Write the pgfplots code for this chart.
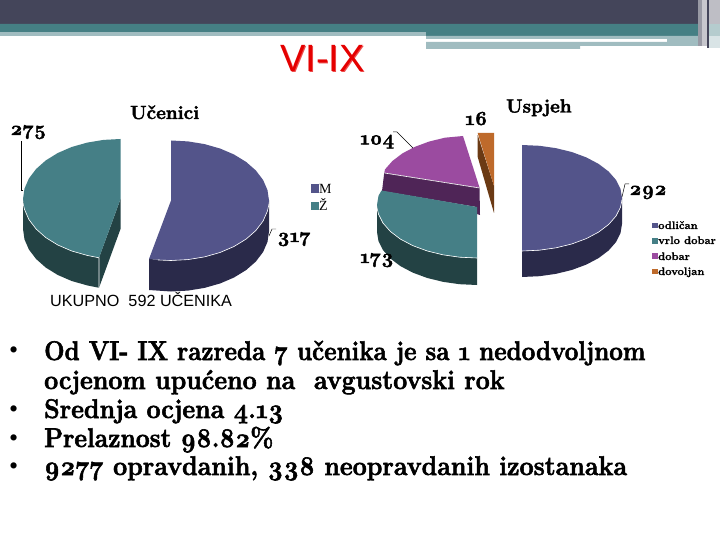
\documentclass[border=0pt]{standalone}
\usepackage{graphicx}
\usepackage{pgfplots}
\pgfplotsset{compat=1.18}
\usepackage{fontspec}
\setmainfont{Liberation Serif}
\newfontfamily\gfont[Numbers=OldStyle,FakeBold=2.2]{Latin Modern Roman}
\newfontfamily\lfont[Numbers=OldStyle,FakeBold=1]{Latin Modern Roman}
\newfontfamily\sfont{Liberation Sans}
\definecolor{bdark}{HTML}{44455A}
\definecolor{bteal}{HTML}{457F84}
\definecolor{blight}{HTML}{A0BCC0}
\definecolor{cblue}{HTML}{53548A}
\definecolor{cbluedk}{HTML}{2A2A4A}
\definecolor{cteal}{HTML}{457F86}
\definecolor{ctealdk}{HTML}{234244}
\definecolor{cmag}{HTML}{9B4BA0}
\definecolor{cmagdk}{HTML}{4F2557}
\definecolor{corg}{HTML}{BE6A2B}
\definecolor{corgdk}{HTML}{6B3A14}
\newcommand{\gb}[1]{\fontsize{#1bp}{#1bp}\selectfont\gfont\bfseries}
\newcommand{\lb}[1]{\fontsize{#1bp}{#1bp}\selectfont\lfont\bfseries}
\newcommand{\bl}[2]{\scalebox{#1}[1]{\gb{27}#2}}
\begin{document}
\begin{tikzpicture}
\begin{axis}[axis lines=none,scale only axis,width=720bp,height=540bp,xmin=0,xmax=720,ymin=0,ymax=540,y dir=reverse,clip=true]
% header
\addplot[fill=white,draw=none] coordinates {(0,0)(720,0)(720,540)(0,540)};
\addplot[fill=bdark,draw=none] coordinates {(0,0)(720,0)(720,24)(0,24)};
\addplot[fill=bteal,draw=none] coordinates {(0,24)(720,24)(720,36)(426,36)(426,32)(0,32)};
\addplot[fill=blight,draw=none] coordinates {(0,32)(426,32)(426,36)(0,36)};
\addplot[fill=blight,draw=none] coordinates {(426,36)(720,36)(720,46)(667,46)(667,39)(426,39)};
\addplot[fill=blight,draw=none] coordinates {(426,42)(667,42)(667,46)(580,46)(580,49)(426,49)};
\addplot[fill=bdark!55!white,draw=none] coordinates {(698,0)(702,0)(702,46)(698,46)};
\addplot[fill=bdark!30!white,draw=none] coordinates {(702,0)(707,0)(707,46)(702,46)};
\addplot[fill=bdark,draw=none] coordinates {(707,0)(709,0)(709,48)(707,48)};
\addplot[fill=bdark!35!white,draw=none] coordinates {(709,0)(720,0)(720,24)(709,24)};
\addplot[fill=bteal!40!white,draw=none] coordinates {(709,24)(720,24)(720,36)(709,36)};
\addplot[fill=blight!40!white,draw=none] coordinates {(709,36)(720,36)(720,48)(709,48)};
% left pie: Z
\addplot[fill=ctealdk,draw=none] coordinates {(23,199)(24.5,209.4)(28.9,219.5)(36.1,229)(45.8,237.6)(57.8,245)(71.7,251)(87.2,255.4)(99,257.8)(120.5,199)(120.5,229)(99,287.8)(87.2,285.4)(71.7,281)(57.8,275)(45.8,267.6)(36.1,259)(28.9,249.5)(24.5,239.4)(23,229)};
\addplot[fill=cteal,draw=none] coordinates {(99,257.8)(87.2,255.4)(71.7,251)(57.8,245)(45.8,237.6)(36.1,229)(28.9,219.5)(24.5,209.4)(23,199)(24.5,188.6)(28.9,178.5)(36.1,169)(45.8,160.4)(57.8,153)(71.7,147)(87.2,142.6)(103.5,139.9)(120.5,139)(120.5,199)};
\addplot[white,line width=0.6pt] coordinates {(23,203)(24.5,209.4)(28.9,219.5)(36.1,229)(45.8,237.6)(57.8,245)(71.7,251)(87.2,255.4)(99,257.8)(99,287.8)};
% left pie: M
\addplot[fill=cbluedk,draw=none] coordinates {(269,200.5)(267.5,210.9)(263.1,221)(255.9,230.5)(246.1,239.1)(234,246.5)(220,252.5)(204.5,256.9)(188,259.6)(171,260.5)(149,259)(149,290)(171,291.5)(188,290.6)(204.5,287.9)(220,283.5)(234,277.5)(246.1,270.1)(255.9,261.5)(263.1,252)(267.5,241.9)(269,231.5)};
\addplot[fill=cblue,draw=none] coordinates {(171,140.5)(188,141.4)(204.5,144.1)(220,148.5)(234,154.5)(246.1,161.9)(255.9,170.5)(263.1,180)(267.5,190.1)(269,200.5)(267.5,210.9)(263.1,221)(255.9,230.5)(246.1,239.1)(234,246.5)(220,252.5)(204.5,256.9)(188,259.6)(171,260.5)(149,259)(171,200.5)};
\addplot[white,line width=0.6pt] coordinates {(269,204)(267.5,210.9)(263.1,221)(255.9,230.5)(246.1,239.1)(234,246.5)(220,252.5)(204.5,256.9)(188,259.6)(171,260.5)(158,260)};
% right pie: dobar wall, then vrlo dobar
\addplot[fill=cmagdk,draw=none] coordinates {(384.3,172.5)(479.5,187.5)(480,215)(476.7,214)(476.7,207)(382,191)};
\addplot[fill=ctealdk,draw=none] coordinates {(377,205)(378.5,214.2)(383,223.1)(390.4,231.5)(400.4,239.1)(412.7,245.6)(427,250.9)(442.8,254.8)(459.6,257.2)(477,258)(477,285)(459.6,284.2)(442.8,281.8)(427,277.9)(412.7,272.6)(400.4,266.1)(390.4,258.5)(383,250.1)(378.5,241.2)(377,232)};
\addplot[fill=cteal,draw=none] coordinates {(477,258)(459.6,257.2)(442.8,254.8)(427,250.9)(412.7,245.6)(400.4,239.1)(390.4,231.5)(383,223.1)(378.5,214.2)(377,205)(378.5,195.8)(381.5,190.5)(477,207)};
\addplot[white,line width=0.6pt] coordinates {(377,208)(378.5,214.2)(383,223.1)(390.4,231.5)(400.4,239.1)(412.7,245.6)(427,250.9)(442.8,254.8)(459.6,257.2)(477,258)};
\addplot[fill=cmag,draw=none] coordinates {(384.3,172.5)(385,169.4)(392.4,161)(402.4,153.4)(414.7,146.9)(429,141.6)(444.8,137.7)(463,136)(479.5,187.5)};
\addplot[white,line width=0.6pt] coordinates {(384.3,173)(479.5,188)};
% dovoljan
\addplot[fill=corgdk,draw=none] coordinates {(477.7,135)(494,186)(494,213)(477.7,157)};
\addplot[fill=corg,draw=none] coordinates {(477.7,133)(494,133)(494,186)};
% odlican
\addplot[fill=cbluedk,draw=none] coordinates {(622,198)(620.5,207.2)(616,216.1)(608.6,224.5)(598.6,232.1)(586.3,238.6)(572,243.9)(556.2,247.8)(539.4,250.2)(522,251)(522,277)(539.4,276.2)(556.2,273.8)(572,269.9)(586.3,264.6)(598.6,258.1)(608.6,250.5)(616,242.1)(620.5,233.2)(622,224)};
\addplot[fill=cblue,draw=none] coordinates {(522,145)(539.4,145.8)(556.2,148.2)(572,152.1)(586.3,157.4)(598.6,163.9)(608.6,171.5)(616,179.9)(620.5,188.8)(622,198)(620.5,207.2)(616,216.1)(608.6,224.5)(598.6,232.1)(586.3,238.6)(572,243.9)(556.2,247.8)(539.4,250.2)(522,251)};
\addplot[white,line width=0.6pt] coordinates {(622,200)(620.5,207.2)(616,216.1)(608.6,224.5)(598.6,232.1)(586.3,238.6)(572,243.9)(556.2,247.8)(539.4,250.2)(522,251)};
% leader lines
\addplot[black,line width=0.5pt] coordinates {(21,141)(21,190)(23,190)};
\addplot[black,line width=0.5pt] coordinates {(269,236)(272,229)(276,229)};
\addplot[black,line width=0.5pt] coordinates {(393,132)(397,132)(413,148)};
\addplot[black,line width=0.5pt] coordinates {(622,197)(625,184)(629,184)};
% legends
\addplot[fill=cblue,draw=none] coordinates {(311,184)(319,184)(319,193)(311,193)};
\addplot[fill=cteal,draw=none] coordinates {(311,202)(319,202)(319,210)(311,210)};
\addplot[fill=cblue,draw=none] coordinates {(652,223)(658,223)(658,228)(652,228)};
\addplot[fill=cteal,draw=none] coordinates {(652,238)(658,238)(658,244)(652,244)};
\addplot[fill=cmag,draw=none] coordinates {(652,253)(658,253)(658,259)(652,259)};
\addplot[fill=corg,draw=none] coordinates {(652,269)(658,269)(658,274)(652,274)};
% texts
\node[anchor=base,text=red!90!black!70!white,font=\fontsize{38bp}{38bp}\selectfont\sfont] at (axis cs:323.5,73) {VI-IX};
\node[anchor=base,text=red!90!black,font=\fontsize{38bp}{38bp}\selectfont\sfont] at (axis cs:322.5,72) {VI-IX};
\node[anchor=base west,inner sep=0pt] at (axis cs:130,119) {\gb{19}Učenici};
\node[anchor=base west,inner sep=0pt] at (axis cs:506,112.5) {\gb{19}Uspjeh};
\node[anchor=base west,inner sep=0pt] at (axis cs:10,135) {\gb{20}275};
\node[anchor=base west,inner sep=0pt] at (axis cs:277,242) {\gb{20}317};
\node[anchor=base west,inner sep=0pt] at (axis cs:360,144.5) {\gb{20}104};
\node[anchor=base west,inner sep=0pt] at (axis cs:465,125) {\gb{20}16};
\node[anchor=base west,inner sep=0pt] at (axis cs:629,195) {\gb{20}292};
\node[anchor=base west,inner sep=0pt] at (axis cs:360,263) {\gb{20}173};
\node[anchor=base west,inner sep=0pt] at (axis cs:319,194) {\fontsize{14bp}{14bp}\selectfont M};
\node[anchor=base west,inner sep=0pt] at (axis cs:319,211) {\fontsize{14bp}{14bp}\selectfont Ž};
\node[anchor=base west,inner sep=0pt] at (axis cs:658,229) {\lb{11}odličan};
\node[anchor=base west,inner sep=0pt] at (axis cs:658,244) {\lb{11}vrlo dobar};
\node[anchor=base west,inner sep=0pt] at (axis cs:658,260) {\lb{11}dobar};
\node[anchor=base west,inner sep=0pt] at (axis cs:658,275) {\lb{11}dovoljan};
\node[anchor=base west,inner sep=0pt,font=\fontsize{16.2bp}{16.2bp}\selectfont\sfont] at (axis cs:50,306) {UKUPNO\ \ 592 UČENIKA};
\node[anchor=base west,inner sep=0pt] at (axis cs:44,360) {\bl{0.894}{Od VI- IX razreda 7 učenika je sa 1 nedodvoljnom}};
\node[anchor=base west,inner sep=0pt] at (axis cs:44,389) {\bl{0.923}{ocjenom upućeno na\ \ avgustovski rok}};
\node[anchor=base west,inner sep=0pt] at (axis cs:44,418) {\bl{0.922}{Srednja ocjena 4.13}};
\node[anchor=base west,inner sep=0pt] at (axis cs:44,447) {\bl{0.911}{Prelaznost 98.82\%}};
\node[anchor=base west,inner sep=0pt] at (axis cs:44,475) {\bl{0.925}{9277 opravdanih, 338 neopravdanih izostanaka}};
\node[anchor=base west,inner sep=0pt] at (axis cs:9,358.5) {\fontsize{26bp}{26bp}\selectfont •};
\node[anchor=base west,inner sep=0pt] at (axis cs:9,417.5) {\fontsize{26bp}{26bp}\selectfont •};
\node[anchor=base west,inner sep=0pt] at (axis cs:9,446.5) {\fontsize{26bp}{26bp}\selectfont •};
\node[anchor=base west,inner sep=0pt] at (axis cs:9,474.5) {\fontsize{26bp}{26bp}\selectfont •};
\end{axis}
\end{tikzpicture}
\end{document}
